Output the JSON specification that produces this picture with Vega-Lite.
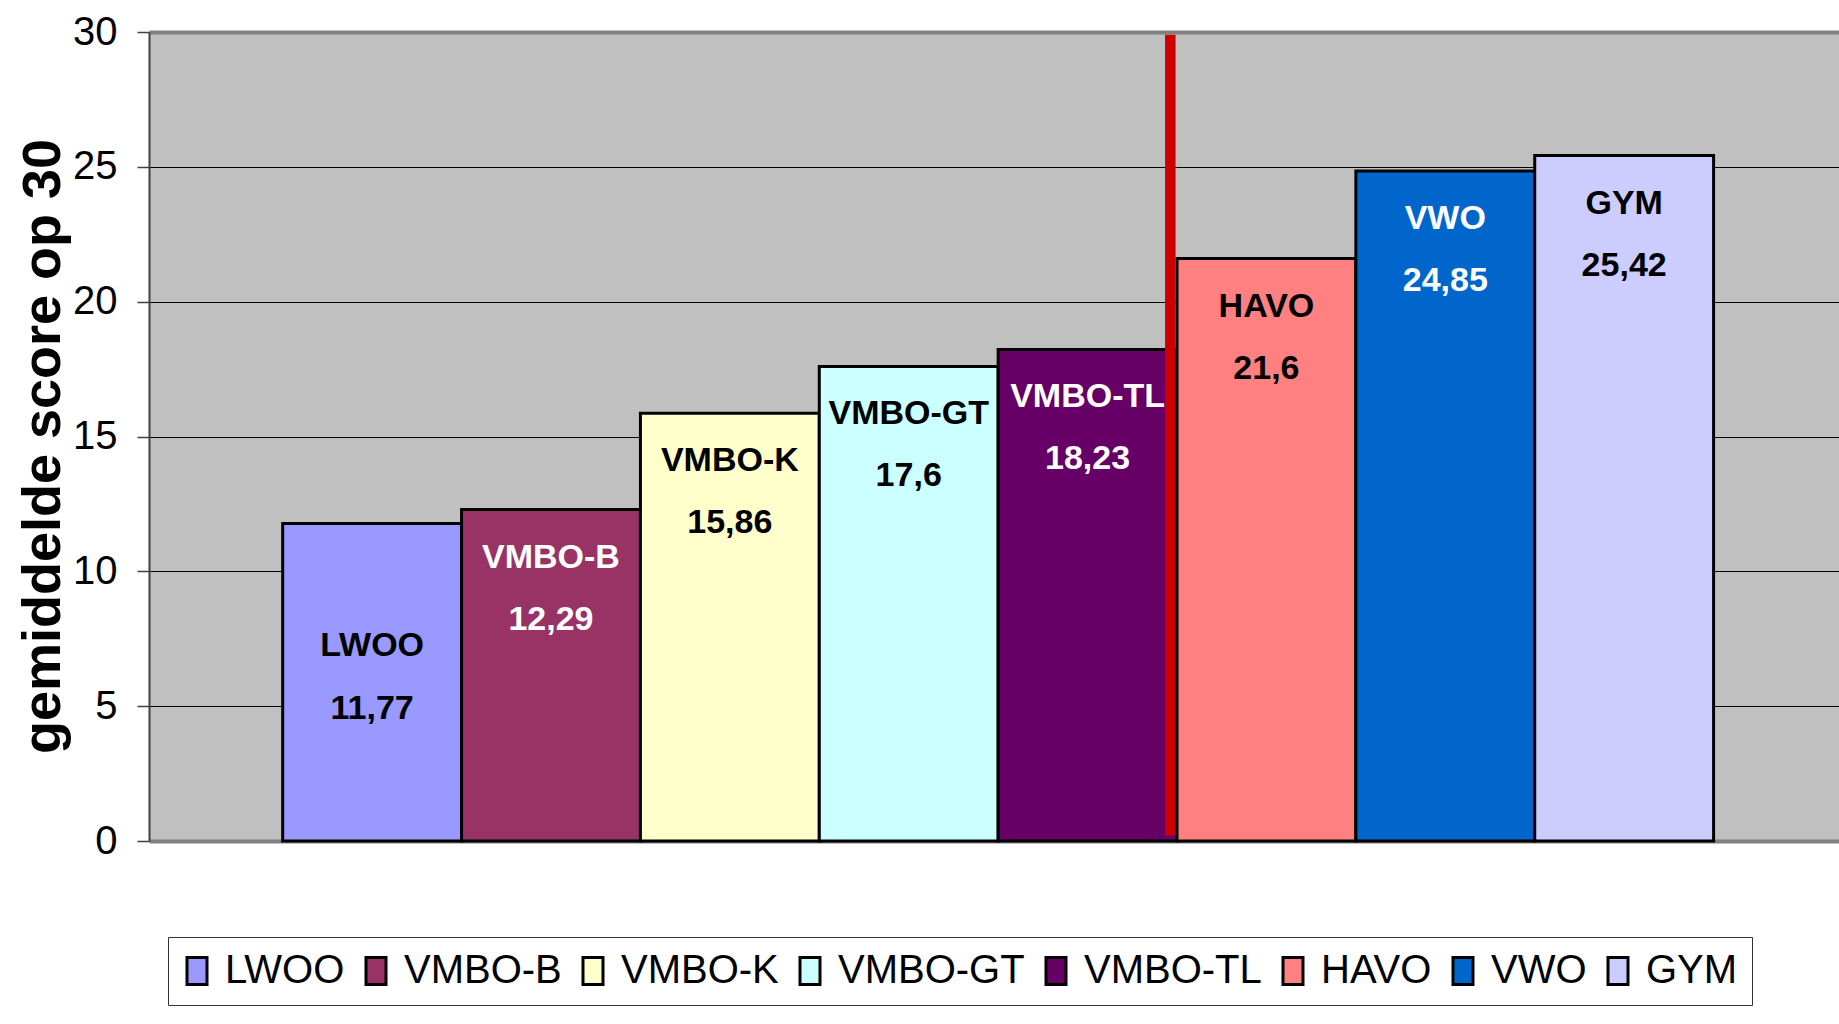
{
  "$schema": "https://vega.github.io/schema/vega-lite/v6.json",
  "width": 1690,
  "height": 809,
  "autosize": {"type": "none"},
  "padding": {"left": 149, "top": 32, "right": 0, "bottom": 183},
  "background": "white",
  "config": {
    "view": {"fill": "#C0C0C0", "stroke": null},
    "locale": {"number": {"decimal": ",", "thousands": ".", "grouping": [3], "currency": ["€", ""]}}
  },
  "data": {
    "values": [
      {"cat": "LWOO", "score": 11.77},
      {"cat": "VMBO-B", "score": 12.29},
      {"cat": "VMBO-K", "score": 15.86},
      {"cat": "VMBO-GT", "score": 17.6},
      {"cat": "VMBO-TL", "score": 18.23},
      {"cat": "HAVO", "score": 21.6},
      {"cat": "VWO", "score": 24.85},
      {"cat": "GYM", "score": 25.42}
    ]
  },
  "layer": [
    {
      "mark": {"type": "bar", "stroke": "black", "strokeWidth": 3, "opacity": 1},
      "encoding": {
        "x": {
          "field": "cat", "type": "nominal", "sort": null, "axis": null,
          "scale": {"paddingInner": 0, "paddingOuter": 0.7243, "align": 0.516}
        },
        "y": {
          "field": "score", "type": "quantitative",
          "scale": {"domain": [0, 30], "nice": false},
          "axis": {
            "values": [0, 5, 10, 15, 20, 25, 30],
            "title": "gemiddelde score op 30",
            "titleFont": "Liberation Sans",
            "titleFontWeight": "bold",
            "titleFontSize": 54,
            "titleColor": "black",
            "titleAngle": -90,
            "titleX": -106,
            "titleY": 414,
            "titleAlign": "center",
            "titleBaseline": "middle",
            "labelFont": "Liberation Sans",
            "labelFontSize": 40,
            "labelColor": "black",
            "labelPadding": 20,
            "tickSize": 12,
            "tickColor": "#404040",
            "tickWidth": 1.5,
            "domainColor": "#404040",
            "domainWidth": 2,
            "grid": true,
            "gridColor": {"condition": {"test": "datum.value === 30 || datum.value === 0", "value": "#808080"}, "value": "black"},
            "gridWidth": {"condition": {"test": "datum.value === 30 || datum.value === 0", "value": 4}, "value": 1},
            "gridOpacity": 1
          }
        },
        "color": {
          "field": "cat", "type": "nominal", "sort": null,
          "scale": {
            "domain": ["LWOO", "VMBO-B", "VMBO-K", "VMBO-GT", "VMBO-TL", "HAVO", "VWO", "GYM"],
            "range": ["#9999FF", "#993366", "#FFFFCC", "#CCFFFF", "#660066", "#FF8080", "#0066CC", "#CCCCFF"]
          },
          "legend": {
            "title": null,
            "orient": "none",
            "legendX": 19,
            "legendY": 905,
            "direction": "horizontal",
            "fillColor": "white",
            "strokeColor": "#333333",
            "padding": 14,
            "symbolType": "M-1,-0.9H0.333V0.9H-1Z",
            "symbolSize": 900,
            "symbolStrokeColor": "black",
            "symbolStrokeWidth": 3,
            "symbolOpacity": 1,
            "labelFont": "Liberation Sans",
            "labelFontSize": 40,
            "labelColor": "black",
            "labelOffset": 3,
            "columnPadding": 15,
            "labelLimit": 400
          }
        }
      }
    },
    {
      "transform": [{"filter": "datum.cat !== 'LWOO'"}],
      "mark": {"type": "text", "font": "Liberation Sans", "fontWeight": "bold", "fontSize": 34, "baseline": "middle", "align": "center", "dy": 48},
      "encoding": {
        "x": {"field": "cat", "type": "nominal", "sort": null},
        "y": {"field": "score", "type": "quantitative"},
        "text": {"field": "cat"},
        "color": {"condition": {"test": "indexof(['VMBO-B','VMBO-TL','VWO'], datum.cat) >= 0", "value": "white"}, "value": "black"}
      }
    },
    {
      "transform": [{"filter": "datum.cat !== 'LWOO'"}],
      "mark": {"type": "text", "font": "Liberation Sans", "fontWeight": "bold", "fontSize": 34, "baseline": "middle", "align": "center", "dy": 110},
      "encoding": {
        "x": {"field": "cat", "type": "nominal", "sort": null},
        "y": {"field": "score", "type": "quantitative"},
        "text": {"field": "score", "type": "quantitative", "format": ".2~f"},
        "color": {"condition": {"test": "indexof(['VMBO-B','VMBO-TL','VWO'], datum.cat) >= 0", "value": "white"}, "value": "black"}
      }
    },
    {
      "transform": [{"filter": "datum.cat === 'LWOO'"}],
      "mark": {"type": "text", "font": "Liberation Sans", "fontWeight": "bold", "fontSize": 34, "baseline": "middle", "align": "center", "dy": 122, "color": "black"},
      "encoding": {
        "x": {"field": "cat", "type": "nominal", "sort": null},
        "y": {"field": "score", "type": "quantitative"},
        "text": {"field": "cat"}
      }
    },
    {
      "transform": [{"filter": "datum.cat === 'LWOO'"}],
      "mark": {"type": "text", "font": "Liberation Sans", "fontWeight": "bold", "fontSize": 34, "baseline": "middle", "align": "center", "dy": 185, "color": "black"},
      "encoding": {
        "x": {"field": "cat", "type": "nominal", "sort": null},
        "y": {"field": "score", "type": "quantitative"},
        "text": {"field": "score", "type": "quantitative", "format": ".2~f"}
      }
    },
    {
      "transform": [{"filter": "datum.cat === 'HAVO'"}],
      "mark": {"type": "rule", "color": "#CC0000", "strokeWidth": 10.5, "xOffset": -6.7},
      "encoding": {
        "x": {"field": "cat", "type": "nominal", "sort": null, "bandPosition": 0},
        "y": {"datum": 0.2},
        "y2": {"datum": 29.9}
      }
    }
  ]
}
